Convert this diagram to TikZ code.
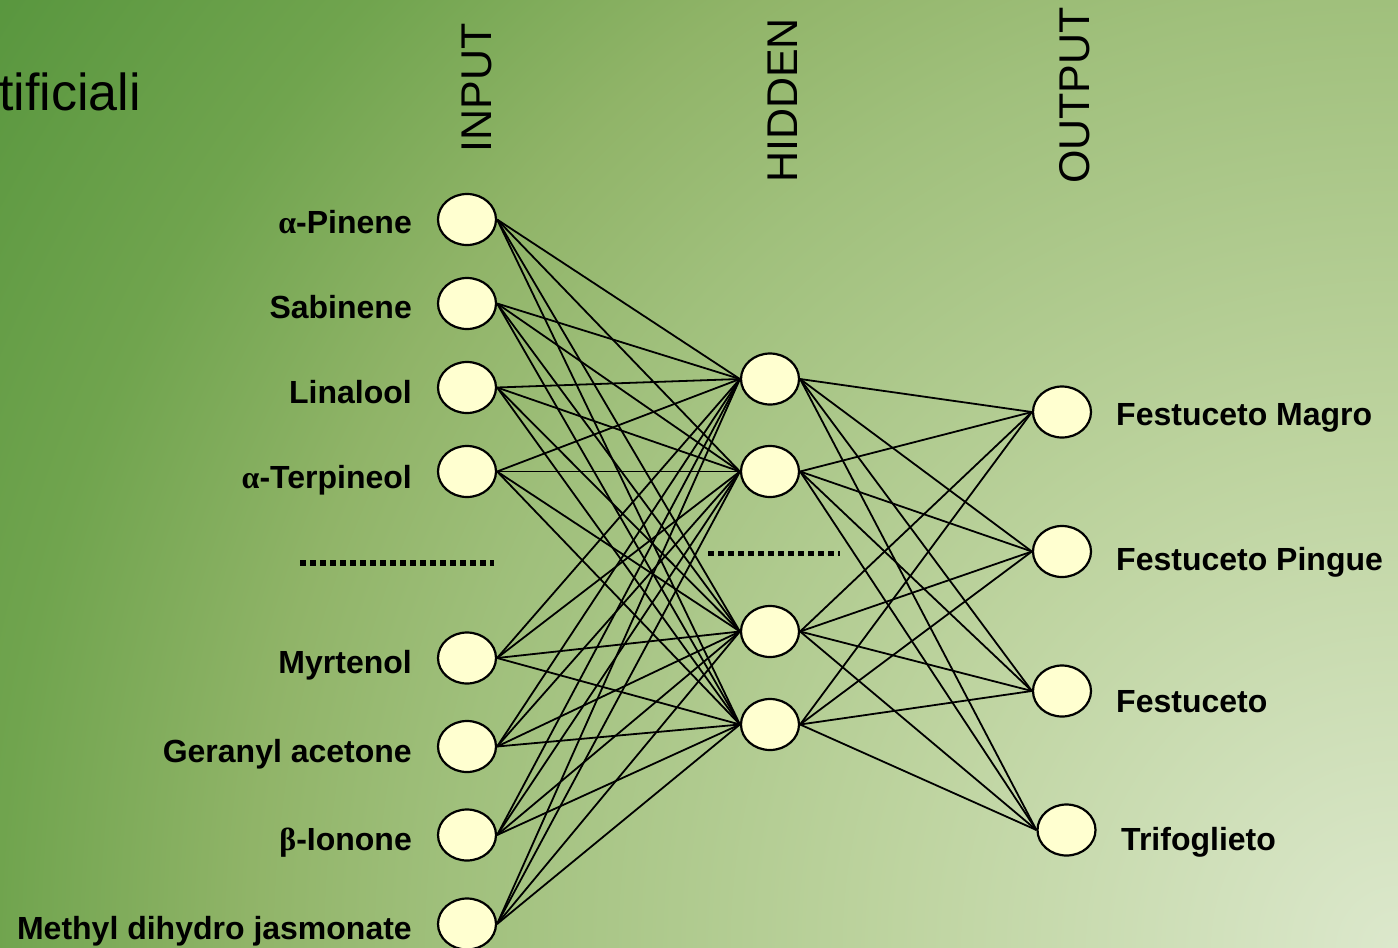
\documentclass[tikz,border=0pt]{standalone}
\usepackage{fontspec}
\setmainfont{Liberation Sans}
\newfontfamily\greekfont{Liberation Serif}
\usetikzlibrary{shapes.geometric}
\definecolor{bgA}{RGB}{220,232,204}
\definecolor{bgB}{RGB}{190,212,160}
\definecolor{bgC}{RGB}{160,192,124}
\definecolor{bgD}{RGB}{144,180,104}
\definecolor{bgE}{RGB}{112,164,78}
\definecolor{bgF}{RGB}{88,150,62}
\definecolor{neuronfill}{RGB}{255,255,208}
\pgfdeclareradialshading{bgshade}{\pgfpoint{0bp}{0bp}}{color(0bp)=(bgA); color(7.35bp)=(bgB); color(13.94bp)=(bgC); color(16.91bp)=(bgD); color(20.59bp)=(bgE); color(25bp)=(bgF); color(50bp)=(bgF)}
\begin{document}
\begin{tikzpicture}[x=1pt,y=-1pt,
  neuron/.style={ellipse, draw=black, line width=2.2pt, fill=neuronfill, minimum width=58pt, minimum height=51pt, inner sep=0pt},
  link/.style={line width=1.8pt, draw=black},
  lbl/.style={inner sep=0pt, font=\fontsize{32}{38}\selectfont\bfseries},
  layer/.style={inner sep=0pt, rotate=90, font=\fontsize{43}{50}\selectfont},
  gapline/.style={line width=5.8pt, draw=black, dash pattern=on 6pt off 4pt}]
\useasboundingbox (0,0) rectangle (1398,948);
\begin{scope}
\clip (0,0) rectangle (1398,948);
\shade[shading=bgshade] (1398,948) circle[radius=1700];
\end{scope}
% title fragment
\node[inner sep=0pt, anchor=base east, font=\fontsize{52}{60}\selectfont] (title) at (141,110) {tificiali};
% layer titles
\node[layer] (tin) at (476.5,87.5) {INPUT};
\node[layer] (thid) at (782.5,100.5) {HIDDEN};
\node[layer] (tout) at (1074.5,95.5) {OUTPUT};
% input neurons
\node[neuron] (i1) at (467,219.5) {};
\node[neuron] (i2) at (467,303.5) {};
\node[neuron] (i3) at (467,387.5) {};
\node[neuron] (i4) at (467,471.5) {};
\node[neuron] (i5) at (467,658) {};
\node[neuron] (i6) at (467,746.5) {};
\node[neuron] (i7) at (467,835) {};
\node[neuron] (i8) at (467,924) {};
% hidden neurons
\node[neuron] (h1) at (770,379) {};
\node[neuron] (h2) at (770,471.5) {};
\node[neuron] (h3) at (770,631.5) {};
\node[neuron] (h4) at (770,724.5) {};
% output neurons
\node[neuron] (o1) at (1062,412) {};
\node[neuron] (o2) at (1062,551.5) {};
\node[neuron] (o3) at (1062,691) {};
\node[neuron] (o4) at (1066.5,830) {};
% connections
\foreach \i in {1,...,8} \foreach \h in {1,...,4} \draw[link] (i\i.east) -- (h\h.west);
\foreach \h in {1,...,4} \foreach \o in {1,...,4} \draw[link] (h\h.east) -- (o\o.west);
% ellipsis lines
\coordinate (d1s) at (300,563);
\coordinate (d1e) at (494,563);
\coordinate (d2s) at (708,553.5);
\coordinate (d2e) at (840,553.5);
\draw[gapline] (d1s) -- (d1e);
\draw[gapline] (d2s) -- (d2e);
% input labels
\node[lbl, anchor=base east] (l1) at (412,233) {{\greekfont α}-Pinene};
\node[lbl, anchor=base east] (l2) at (412,318) {Sabinene};
\node[lbl, anchor=base east] (l3) at (412,403) {Linalool};
\node[lbl, anchor=base east] (l4) at (412,488) {{\greekfont α}-Terpineol};
\node[lbl, anchor=base east] (l5) at (412,673) {Myrtenol};
\node[lbl, anchor=base east] (l6) at (412,762) {Geranyl acetone};
\node[lbl, anchor=base east] (l7) at (412,850) {{\greekfont β}-Ionone};
\node[lbl, anchor=base east] (l8) at (412,939) {Methyl dihydro jasmonate};
% output labels
\node[lbl, anchor=base west] (r1) at (1116,425) {Festuceto Magro};
\node[lbl, anchor=base west] (r2) at (1116,570) {Festuceto Pingue};
\node[lbl, anchor=base west] (r3) at (1116,712) {Festuceto};
\node[lbl, anchor=base west] (r4) at (1121,850) {Trifoglieto};
\end{tikzpicture}
\end{document}
